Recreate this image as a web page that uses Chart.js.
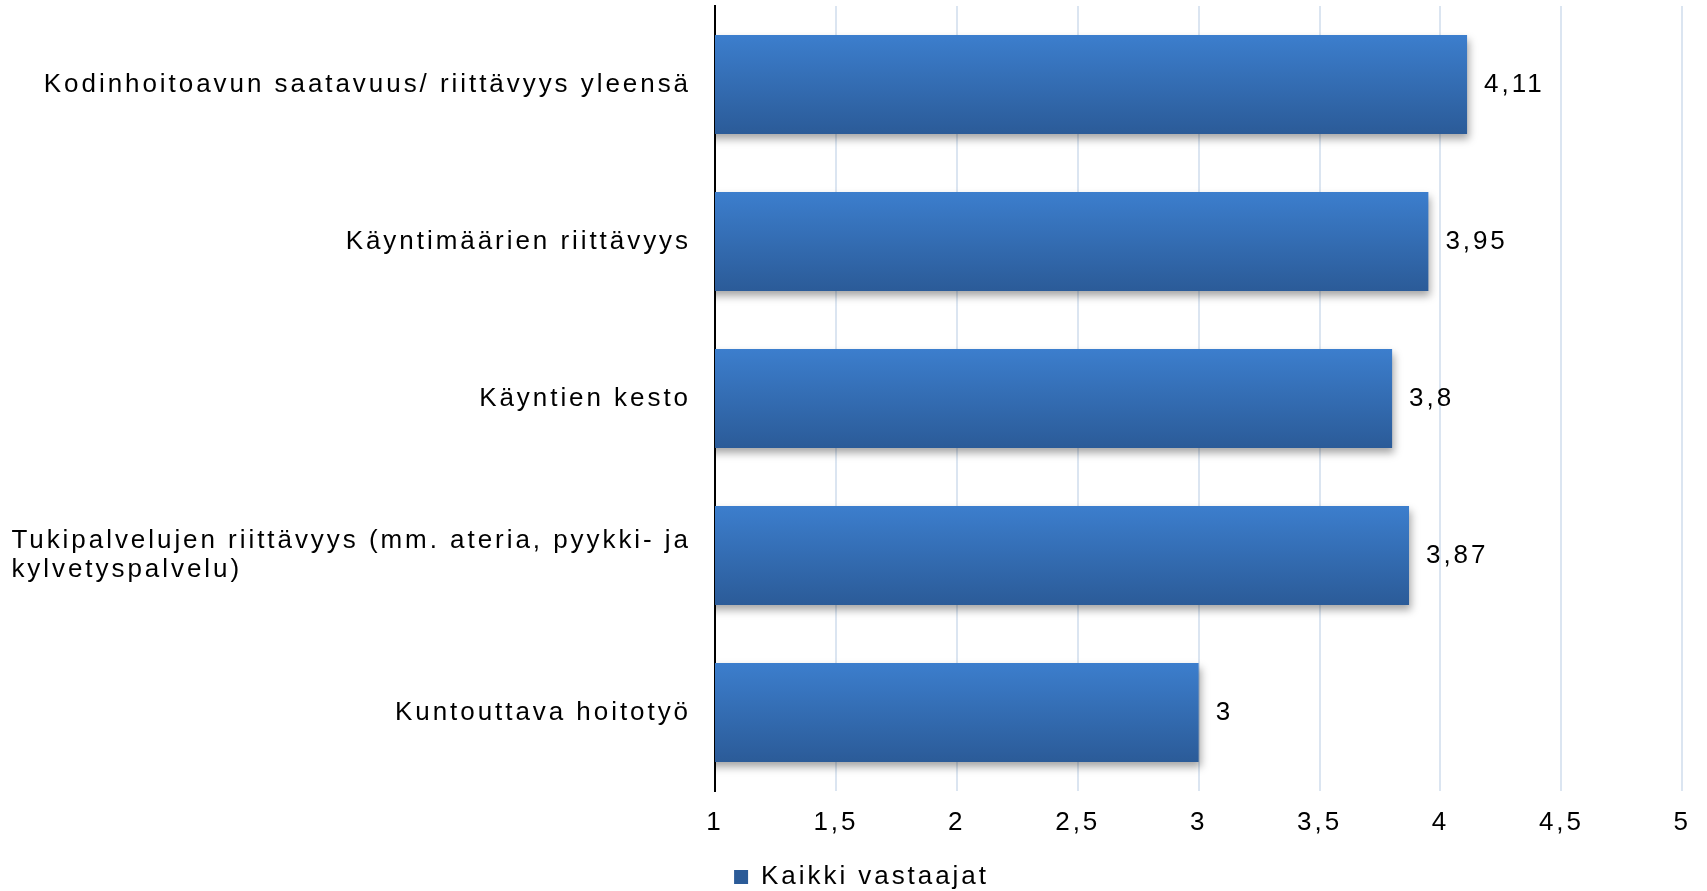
<!DOCTYPE html>
<html>
<head>
<meta charset="utf-8">
<script src="https://cdn.jsdelivr.net/npm/chart.js@4.4.0/dist/chart.umd.min.js"></script>
<style>
  body { margin: 0; background: #fff; }
</style>
</head>
<body>
<canvas id="myChart" width="1707" height="891"></canvas>
<script>
// data
var categories = [
    'Kodinhoitoavun saatavuus/ riittävyys yleensä',
    'Käyntimäärien riittävyys',
    'Käyntien kesto',
    ['Tukipalvelujen riittävyys (mm. ateria, pyykki- ja', 'kylvetyspalvelu)'],
    'Kuntouttava hoitotyö'
];
var values = [4.11, 3.95, 3.8, 3.87, 3];
var seriesName = 'Kaikki vastaajat';
var axisMin = 1;
var axisMax = 5;
var axisStep = 0.5;

var fontFamily = '"Liberation Sans", Arial, sans-serif';
var fontSize = 26;
var spacing = '2.95px'; // the original text is letter spaced
var barTop = 'rgb(60,126,205)';
var barBottom = 'rgb(43,91,152)';
var padLeft = 38; // pushes the legend a bit right of centre, like the original

function commaNum(v) {
    return String(v).replace('.', ',');
}

function setSpacing(chart) {
    chart.ctx.letterSpacing = spacing;
}

var ctx = document.getElementById('myChart').getContext('2d');

var spacingPlugin = {
    id: 'spacing',
    beforeUpdate: setSpacing,
    beforeLayout: setSpacing,
    beforeDraw: setSpacing
};

// bar shadow + value labels + category labels
var extrasPlugin = {
    id: 'extras',
    beforeDatasetsDraw: function(chart) {
        var c = chart.ctx;
        c.save();
        c.shadowColor = 'rgba(0,0,0,0.35)';
        c.shadowBlur = 8;
        c.shadowOffsetX = 2;
        c.shadowOffsetY = 5;
    },
    afterDatasetsDraw: function(chart) {
        var c = chart.ctx;
        c.restore();
        c.save();
        c.letterSpacing = spacing;
        c.font = fontSize + 'px ' + fontFamily;
        c.fillStyle = '#000';
        c.textBaseline = 'middle';

        // values next to the bars
        var meta = chart.getDatasetMeta(0);
        c.textAlign = 'left';
        meta.data.forEach(function(bar, i) {
            c.fillText(commaNum(values[i]), bar.x + 17, bar.y);
        });

        // category labels, wrapped ones left aligned inside their block
        var yScale = chart.scales.y;
        var right = chart.chartArea.left - 24;
        var lineH = 29.4;
        categories.forEach(function(label, i) {
            var lines = [].concat(label);
            var cy = yScale.getPixelForValue(i);
            var maxW = 0;
            lines.forEach(function(l) { maxW = Math.max(maxW, c.measureText(l).width); });
            lines.forEach(function(l, j) {
                var y = cy + (j - (lines.length - 1) / 2) * lineH;
                if (lines.length > 1) {
                    c.textAlign = 'left';
                    c.fillText(l, right - maxW, y);
                } else {
                    c.textAlign = 'right';
                    c.fillText(l, right, y);
                }
            });
        });
        c.restore();
    }
};

var chart = new Chart(ctx, {
    type: 'bar',
    data: {
        labels: categories,
        datasets: [{
            label: seriesName,
            data: values,
            backgroundColor: function(context) {
                var ch = context.chart;
                var area = ch.chartArea;
                if (!area || context.type !== 'data') {
                    return 'rgb(55,114,188)';
                }
                var center = ch.scales.y.getPixelForValue(context.dataIndex);
                var half = (area.bottom - area.top) / categories.length * 0.63 / 2;
                var g = ch.ctx.createLinearGradient(0, center - half, 0, center + half);
                g.addColorStop(0, barTop);
                g.addColorStop(1, barBottom);
                return g;
            },
            borderWidth: 0,
            categoryPercentage: 1,
            barPercentage: 0.63
        }]
    },
    options: {
        indexAxis: 'y',
        responsive: false,
        animation: false,
        layout: {
            padding: { top: 6, right: 22, bottom: -9, left: padLeft }
        },
        plugins: {
            legend: {
                position: 'bottom',
                labels: {
                    boxWidth: 14,
                    boxHeight: 14,
                    padding: 0,
                    color: '#000',
                    font: { family: fontFamily, size: fontSize }
                }
            },
            tooltip: { enabled: false }
        },
        scales: {
            x: {
                min: axisMin,
                max: axisMax,
                afterFit: function(scale) { scale.height = 73; },
                ticks: {
                    stepSize: axisStep,
                    padding: 16,
                    color: '#000',
                    font: { family: fontFamily, size: fontSize },
                    callback: function(v) { return commaNum(v); }
                },
                grid: {
                    drawTicks: false,
                    lineWidth: 2,
                    color: function(c) {
                        return c.tick && c.tick.value === axisMin ? '#000' : '#dbe5f1';
                    }
                },
                border: { display: false }
            },
            y: {
                afterFit: function(scale) { scale.width = 715 - padLeft; },
                ticks: { display: false },
                grid: { display: false },
                border: { display: true, color: '#000', width: 2 }
            }
        }
    },
    plugins: [spacingPlugin, extrasPlugin]
});
</script>
</body>
</html>
